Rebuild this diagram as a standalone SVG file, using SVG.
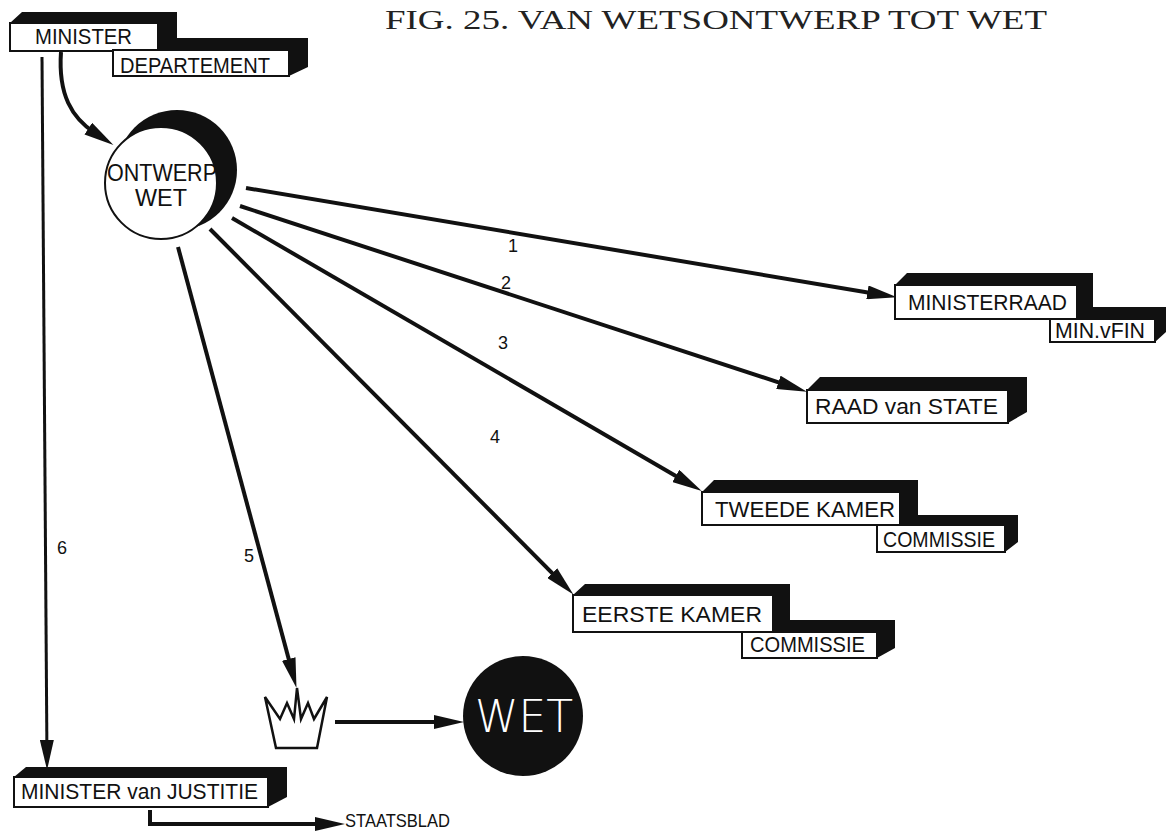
<svg xmlns="http://www.w3.org/2000/svg" width="1167" height="832" viewBox="0 0 1167 832">
<style>
.sh{fill:#111}
.bx{fill:#fff;stroke:#111;stroke-width:2}
.lb{font-family:"Liberation Sans",Arial,sans-serif;font-size:22px;fill:#111}
.num{font-family:"Liberation Sans",Arial,sans-serif;font-size:18px;fill:#111}
.ln{stroke:#111;stroke-width:4;fill:none;marker-end:url(#ah)}
</style>
<defs>
<marker id="ah" markerUnits="userSpaceOnUse" viewBox="0 -7 30 14" refX="8" refY="0" markerWidth="30" markerHeight="14" orient="auto">
<path d="M0,-7 L30,0 L0,7 Z" fill="#111"/>
</marker>
</defs>
<rect width="1167" height="832" fill="#fff"/>
<text x="385" y="29" font-family="'Liberation Serif',serif" font-size="27" fill="#222" textLength="662" lengthAdjust="spacingAndGlyphs">FIG. 25. VAN WETSONTWERP TOT WET</text>

<g id="connectors">
<path class="ln" d="M61 52 C58 95 72 118 95 133"/>
<line class="ln" x1="42" y1="57" x2="46.9" y2="748" style="stroke-width:3"/>
<line class="ln" x1="246" y1="188" x2="875.3" y2="293.7"/>
<line class="ln" x1="240" y1="206" x2="786" y2="384.8"/>
<line class="ln" x1="232" y1="218" x2="682.7" y2="479.9"/>
<line class="ln" x1="210" y1="229" x2="557.9" y2="578.8"/>
<line class="ln" x1="178" y1="247" x2="290.8" y2="666.7"/>
<line class="ln" x1="335" y1="722" x2="442" y2="722"/>
<path class="ln" d="M150 810 V824 H323"/>
<text class="num" x="508" y="252">1</text>
<text class="num" x="501" y="289">2</text>
<text class="num" x="498" y="349">3</text>
<text class="num" x="490" y="443">4</text>
<text class="num" x="244" y="562">5</text>
<text class="num" x="57" y="554">6</text>
</g>

<g id="minister">
<polygon class="sh" points="10,23 22,12 177,12 177,38 308,38 308,67 289,76 113,76 113,51 10,51"/>
<rect class="bx" x="10" y="23" width="148" height="28"/>
<rect class="bx" x="113" y="50" width="176" height="26"/>
<text class="lb" x="35" y="44" textLength="97" lengthAdjust="spacingAndGlyphs">MINISTER</text>
<text class="lb" x="120" y="73" textLength="150" lengthAdjust="spacingAndGlyphs">DEPARTEMENT</text>
</g>

<g id="ontwerp">
<circle cx="177" cy="170" r="60" fill="#111"/>
<circle cx="161" cy="183" r="56" fill="#fff" stroke="#111" stroke-width="2"/>
<text class="lb" x="107" y="181" style="font-size:23px" textLength="110" lengthAdjust="spacingAndGlyphs">ONTWERP</text>
<text class="lb" x="135" y="206" style="font-size:23px" textLength="52" lengthAdjust="spacingAndGlyphs">WET</text>
</g>

<g id="ministerraad">
<polygon class="sh" points="895,285 907,273 1093,273 1093,307 1166,307 1166,332 1155,342 1050,342 1050,319 895,319"/>
<rect class="bx" x="895" y="285" width="182" height="34"/>
<rect class="bx" x="1050" y="319" width="105" height="23"/>
<text class="lb" x="908" y="310" textLength="159" lengthAdjust="spacingAndGlyphs">MINISTERRAAD</text>
<text class="lb" x="1055" y="338" textLength="90" lengthAdjust="spacingAndGlyphs">MIN.vFIN</text>
</g>

<g id="raad">
<polygon class="sh" points="807,390 820,377 1027,377 1027,412 1008,423 807,423"/>
<rect class="bx" x="807" y="390" width="201" height="33"/>
<text class="lb" x="815" y="414" textLength="183" lengthAdjust="spacingAndGlyphs">RAAD van STATE</text>
</g>

<g id="tweede">
<polygon class="sh" points="702,492 714,480 918,480 918,515 1018,515 1018,542 1005,552 877,552 877,525 702,525"/>
<rect class="bx" x="702" y="492" width="198" height="33"/>
<rect class="bx" x="877" y="525" width="128" height="27"/>
<text class="lb" x="715" y="517" textLength="180" lengthAdjust="spacingAndGlyphs">TWEEDE KAMER</text>
<text class="lb" x="883" y="547" textLength="112" lengthAdjust="spacingAndGlyphs">COMMISSIE</text>
</g>

<g id="eerste">
<polygon class="sh" points="573,595 585,584 790,584 790,620 895,620 895,648 877,658 742,658 742,632 573,632"/>
<rect class="bx" x="573" y="595" width="200" height="37"/>
<rect class="bx" x="742" y="632" width="135" height="26"/>
<text class="lb" x="582" y="622" textLength="180" lengthAdjust="spacingAndGlyphs">EERSTE KAMER</text>
<text class="lb" x="750" y="652" textLength="115" lengthAdjust="spacingAndGlyphs">COMMISSIE</text>
</g>

<g id="crown">
<path d="M265 697 L280 719 L287 703 L294 719 L297 688 L301 719 L308 703 L314 719 L327 697 L317 748 L276 748 Z" fill="#fff" stroke="#111" stroke-width="2.5" stroke-linejoin="miter"/>
</g>

<g id="wet">
<circle cx="523" cy="716" r="60" fill="#111"/>
<text x="475" y="732" font-family="'DejaVu Sans','Liberation Sans',sans-serif" font-weight="200" font-size="44" fill="#fff" textLength="98" lengthAdjust="spacingAndGlyphs">WET</text>
</g>

<g id="justitie">
<polygon class="sh" points="14,777 26,767 287,767 287,797 268,807 14,807"/>
<rect class="bx" x="14" y="777" width="254" height="30"/>
<text class="lb" x="21" y="799" textLength="237" lengthAdjust="spacingAndGlyphs">MINISTER van JUSTITIE</text>
</g>

<g id="staatsblad">
<text class="lb" x="345" y="827" style="font-size:18px" textLength="105" lengthAdjust="spacingAndGlyphs">STAATSBLAD</text>
</g>
</svg>
